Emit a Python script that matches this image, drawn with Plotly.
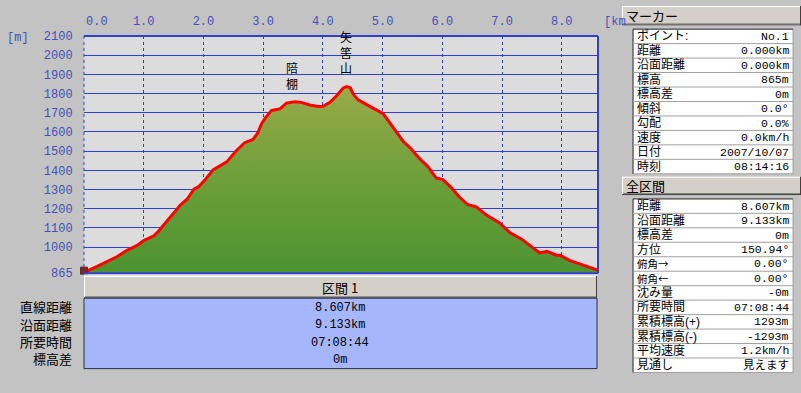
import plotly.graph_objects as go

W, H = 801, 393

# ---------------- data ----------------
dist_km = [0, 0.02, 0.22, 0.40, 0.55, 0.72, 0.89, 1.0, 1.17, 1.25, 1.39, 1.53, 1.61, 1.73,
           1.84, 1.92, 2.03, 2.16, 2.28, 2.39, 2.55, 2.69, 2.83, 2.91, 2.97, 3.03, 3.14,
           3.28, 3.39, 3.53, 3.64, 3.78, 3.92, 4.0, 4.12, 4.23, 4.34, 4.40, 4.46, 4.51,
           4.59, 4.73, 4.84, 5.01, 5.18, 5.34, 5.48, 5.62, 5.76, 5.90, 6.01, 6.15, 6.29,
           6.43, 6.57, 6.74, 6.96, 7.13, 7.33, 7.49, 7.63, 7.75, 7.91, 7.97, 8.14, 8.30,
           8.44, 8.58, 8.607]
elev_m = [868, 872, 900, 925, 950, 984, 1009, 1034, 1059, 1084, 1134, 1185, 1218, 1251,
          1302, 1315, 1352, 1402, 1425, 1444, 1502, 1544, 1561, 1595, 1640, 1670, 1712,
          1720, 1750, 1757, 1754, 1740, 1732, 1734, 1754, 1788, 1829, 1836, 1830, 1796,
          1767, 1745, 1724, 1695, 1625, 1553, 1511, 1461, 1419, 1360, 1352, 1310, 1260,
          1221, 1210, 1167, 1126, 1076, 1042, 1004, 970, 978, 958, 958, 930, 913,
          896, 883, 880]

x_ticks = [1, 2, 3, 4, 5, 6, 7, 8]
x_tick_labels = ["1.0", "2.0", "3.0", "4.0", "5.0", "6.0", "7.0", "8.0"]
y_ticks = [865, 1000, 1100, 1200, 1300, 1400, 1500, 1600, 1700, 1800, 1900, 2000, 2100]
y_tick_labels = [str(v) for v in y_ticks]

peak_names = ["陪<br>棚", "矢<br>筈<br>山"]
peak_x = [3.48, 4.38]
peak_y = [1795, 1880]

section_title = "区間 1"
section_labels = ["直線距離", "沿面距離", "所要時間", "標高差"]
section_values = ["8.607km", "9.133km", "07:08:44", "0m"]

marker_title = "マーカー"
marker_labels = ["ポイント:", "距離", "沿面距離", "標高", "標高差", "傾斜", "勾配", "速度", "日付", "時刻"]
marker_values = ["No.1", "0.000km", "0.000km", "865m", "0m", "0.0°", "0.0%", "0.0km/h", "2007/10/07", "08:14:16"]

total_title = "全区間"
total_labels = ["距離", "沿面距離", "標高差", "方位", "俯角→", "俯角←", "沈み量", "所要時間",
                "累積標高(+)", "累積標高(-)", "平均速度", "見通し"]
total_values = ["8.607km", "9.133km", "0m", "150.94°", "0.00°", "0.00°", "-0m", "07:08:44",
                "1293m", "-1293m", "1.2km/h", "見えます"]

# ---------------- style ----------------
BG = "#c3c3c3"
PLOT_BG = "#dcdcdc"
BLUE = "#2f3fd0"
TXT_BLUE = "#4450b8"
BAR = "#d4d0c8"
JP = "Noto Sans CJK JP"
JP_TIGHT = "Liberation Sans, Noto Sans CJK JP"
NUM = "Liberation Mono, Noto Sans CJK JP"

def px(x):
    return x / W

def py(y):
    return 1 - y / H

PL, PR, PT, PB = 84, 598, 31, 277

fig = go.Figure()
fig.add_trace(go.Scatter(
    x=dist_km, y=elev_m, mode="lines", fill="tozeroy",
    line=dict(color="#ff0000", width=3),
    fillgradient=dict(type="vertical", start=865, stop=1840,
                      colorscale=[[0, "#4a9230"], [0.5, "#6a9e38"], [1, "#98aa48"]]),
    hoverinfo="skip", showlegend=False))

shapes = []
annos = []

def rect(x0, y0, x1, y1, fill, line=None, lw=0, layer="above"):
    shapes.append(dict(type="rect", xref="paper", yref="paper",
                       x0=px(x0), x1=px(x1), y0=py(y1), y1=py(y0),
                       fillcolor=fill, line=dict(color=line or fill, width=lw), layer=layer))

def hline(x0, x1, y, color, w=1, dash="solid"):
    shapes.append(dict(type="line", xref="paper", yref="paper",
                       x0=px(x0), x1=px(x1), y0=py(y), y1=py(y),
                       line=dict(color=color, width=w, dash=dash)))

def vline(x, y0, y1, color, w=1, dash="solid"):
    shapes.append(dict(type="line", xref="paper", yref="paper",
                       x0=px(x), x1=px(x), y0=py(y0), y1=py(y1),
                       line=dict(color=color, width=w, dash=dash)))

def text(x, y, s, anchor="left", size=12, color="black", family=JP):
    annos.append(dict(xref="paper", yref="paper", x=px(x), y=py(y), text=s,
                      showarrow=False, xanchor=anchor, yanchor="middle",
                      font=dict(family=family, size=size, color=color)))

def bar(x0, y0, x1, y1):
    rect(x0, y0, x1, y1, BAR)
    hline(x0, x1, y0 + 0.5, "#ffffff")
    vline(x0 + 0.5, y0, y1, "#ffffff")
    hline(x0, x1, y1 - 0.5, "#404040")
    vline(x1 - 0.5, y0, y1, "#404040")
    hline(x0 + 1, x1 - 1, y1 - 1.5, "#808080")

# plot frame
hline(PL, PR, PT, BLUE, 2)
vline(PR, PT, PB, BLUE, 2)
hline(PL, PR, PB, BLUE, 2)
vline(PL, PT, PB, BLUE, 1, "dot")
hline(PL, PR, PB + 2, "#f4f4f4", 1)

# axis unit labels
text(5, 33, "[m]", "left", 12, TXT_BLUE, NUM)
text(602, 17, "[km", "left", 12, TXT_BLUE, NUM)
annos.append(dict(xref="x", yref="paper", x=0, y=py(17), text="0.0", showarrow=False,
                  xanchor="center", yanchor="middle", xshift=13,
                  font=dict(family=NUM, size=12, color=TXT_BLUE)))

# peak names
for n, xx, yy in zip(peak_names, peak_x, peak_y):
    annos.append(dict(xref="x", yref="y", x=xx, y=yy, text=n, showarrow=False,
                      xanchor="center", yanchor="bottom",
                      font=dict(family=JP, size=12, color="black")))

# start marker (hiker)
fig.add_trace(go.Scatter(x=[0], y=[878], mode="markers",
                         marker=dict(symbol="square", size=7, color="#8a2020",
                                     line=dict(color="#503020", width=1)),
                         cliponaxis=False, hoverinfo="skip", showlegend=False))

# bottom section
bar(PL, 280, 597, 303)
text(340, 292, section_title, "center", 13)
rect(PL, 303, 597, 376, "#a6b6fa", "#283048", 1)
rows_y = [313, 331, 349, 367]
for lab, val, yy in zip(section_labels, section_values, rows_y):
    text(74, yy, lab, "right", 13, "black", JP_TIGHT)
    text(340, yy, val, "center", 12, "black", NUM)

# right panels
def table(title, y_title0, y_title1, labels, values, y_top):
    bar(622, y_title0, 801, y_title1)
    text(624, (y_title0 + y_title1) / 2, title, "left", 13)
    n = len(labels)
    y_bot = y_top + 15 * n
    rect(633, y_top, 793, y_bot, "#ffffff", "#a0a0a0", 1)
    hline(633, 793, y_top, "#404040", 1)
    vline(633, y_top, y_bot, "#404040", 1)
    for i, (lab, val) in enumerate(zip(labels, values)):
        yy = y_top + 15 * i + 7.5
        if i > 0:
            hline(633, 793, y_top + 15 * i, "#a0a0a0", 1)
        has_arrow = ("→" in lab) or ("←" in lab)
        if has_arrow:
            text(635, yy, lab, "left", 10.5, "black", JP)
        else:
            text(635, yy, lab, "left", 12, "black", JP_TIGHT)
        text(791, yy, val, "right", 11.5, "black", NUM)

table(marker_title, 0, 20, marker_labels, marker_values, 24)
table(total_title, 177, 196, total_labels, total_values, 200)

fig.update_layout(
    width=W, height=H, margin=dict(l=0, r=0, t=0, b=0),
    paper_bgcolor=BG, plot_bgcolor=PLOT_BG,
    shapes=shapes, annotations=annos,
    xaxis=dict(domain=[px(PL), px(PR)], range=[0, 8.607], side="top",
               tickvals=x_ticks, ticktext=x_tick_labels,
               ticks="outside", ticklen=5, tickcolor="rgba(0,0,0,0)",
               tickfont=dict(family=NUM, size=12, color=TXT_BLUE),
               showgrid=True, gridcolor=BLUE, griddash="dot", gridwidth=1,
               zeroline=False, showline=False, fixedrange=True),
    yaxis=dict(domain=[py(PB), py(PT)], range=[865, 2100],
               tickvals=y_ticks, ticktext=y_tick_labels,
               ticks="outside", ticklen=8, tickcolor="rgba(0,0,0,0)",
               tickfont=dict(family=NUM, size=12, color=TXT_BLUE),
               showgrid=True, gridcolor=BLUE, gridwidth=1,
               zeroline=False, showline=False, fixedrange=True),
)

fig.write_html("out.html")
